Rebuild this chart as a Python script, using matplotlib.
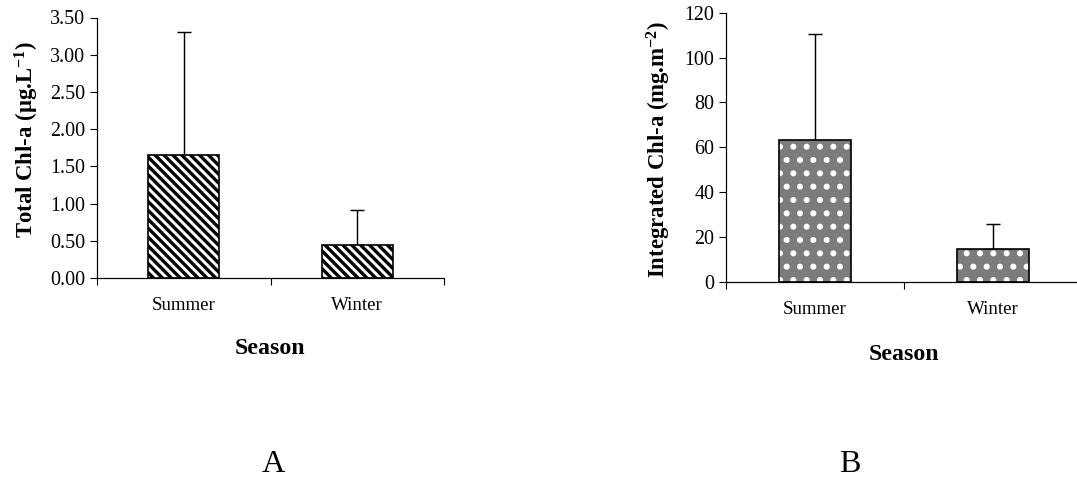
import matplotlib
matplotlib.use('Agg')
import matplotlib.pyplot as plt
import numpy as np

plt.rcParams['font.family'] = ['Liberation Serif', 'DejaVu Serif']
plt.rcParams['mathtext.fontset'] = 'custom'
plt.rcParams['mathtext.rm'] = 'Liberation Serif'
plt.rcParams['mathtext.bf'] = 'Liberation Serif:bold'
plt.rcParams['mathtext.default'] = 'bf'
plt.rcParams['hatch.linewidth'] = 3.0

seasons = ['Summer', 'Winter']
total_chla = [1.655, 0.44]
total_chla_sd = [1.655, 0.48]
integrated_chla = [63.3, 14.6]
integrated_chla_sd = [47.1, 11.1]

DPI = 80
fig = plt.figure(figsize=(1077 / DPI, 481 / DPI), dpi=DPI)

ax1 = fig.add_axes([97 / 1077, 1 - 278 / 481, 347 / 1077, 260.5 / 481])
ax2 = fig.add_axes([726 / 1077, 1 - 282 / 481, 356 / 1077, 269.3 / 481])

x = np.arange(len(seasons)) + 0.5


def style_axis(ax):
    for side in ['top', 'right']:
        ax.spines[side].set_visible(False)
    for side in ['left', 'bottom']:
        ax.spines[side].set_linewidth(1.1)
    ax.set_xlim(0, len(seasons))
    ax.set_xticks(np.arange(len(seasons) + 1))
    ax.set_xticklabels([])
    ax.set_xticks(x, minor=True)
    ax.set_xticklabels(seasons, minor=True, fontsize=17)
    ax.tick_params(axis='x', which='major', direction='out', length=6, width=1)
    ax.tick_params(axis='x', which='minor', length=0, pad=17)
    ax.tick_params(axis='y', direction='out', length=6.5, width=1, labelsize=18, pad=4)


# Panel A: total Chl-a, diagonal stripes
ax1.bar(x, total_chla, width=0.41, color='white', edgecolor='black',
        linewidth=1.5, hatch='\\\\\\', zorder=2)
ax1.errorbar(x, total_chla, yerr=[np.zeros(len(seasons)), total_chla_sd],
             fmt='none', ecolor='black', elinewidth=1.3, capsize=6, capthick=1.3, zorder=1)
style_axis(ax1)
ax1.set_ylim(0, 3.5)
ax1.set_yticks(np.arange(0, 3.51, 0.5))
ax1.set_yticklabels([f'{v:.2f}' for v in np.arange(0, 3.51, 0.5)])
ax1.set_ylabel('Total Chl-a (µg.L$^{-1}$)', fontsize=20.5, fontweight='bold')
ax1.yaxis.set_label_coords(-0.16, 0.53)
ax1.set_xlabel('Season', fontsize=21.5, fontweight='bold')
ax1.xaxis.set_label_coords(0.5, -0.23)

# Panel B: integrated Chl-a, dotted grey
ax2.bar(x, integrated_chla, width=0.405, color='#7c7c7c', edgecolor='white',
        linewidth=0, hatch='.', zorder=2)
ax2.bar(x, integrated_chla, width=0.405, color='none', edgecolor='black',
        linewidth=1.5, zorder=3)
ax2.errorbar(x, integrated_chla, yerr=[np.zeros(len(seasons)), integrated_chla_sd],
             fmt='none', ecolor='black', elinewidth=1.3, capsize=6, capthick=1.3, zorder=1)
style_axis(ax2)
ax2.set_ylim(0, 120)
ax2.set_yticks(np.arange(0, 121, 20))
ax2.set_ylabel('Integrated Chl-a (mg.m$^{-2}$)', fontsize=20.5, fontweight='bold')
ax2.yaxis.set_label_coords(-0.15, 0.49)
ax2.set_xlabel('Season', fontsize=21.5, fontweight='bold')
ax2.xaxis.set_label_coords(0.5, -0.23)

fig.text(273 / 1077, 1 - 465 / 481, 'A', fontsize=29, ha='center', va='center')
fig.text(850 / 1077, 1 - 465 / 481, 'B', fontsize=29, ha='center', va='center')

fig.savefig('out.png', dpi=DPI, facecolor='white')
